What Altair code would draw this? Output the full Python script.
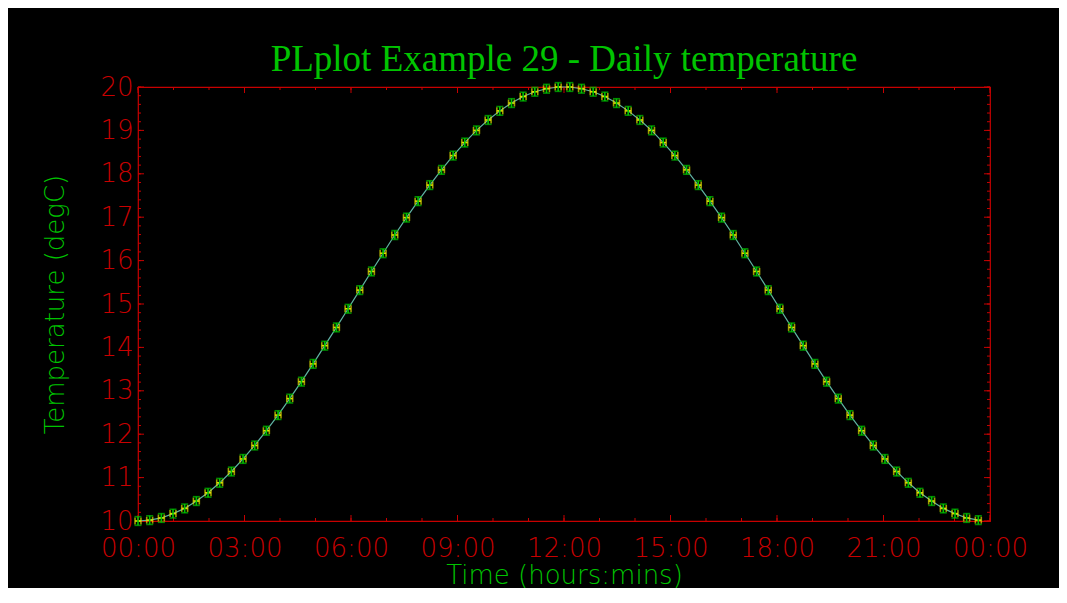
import altair as alt
import pandas as pd

# ---- data (73 samples over one day) ----
hours = [0.000, 0.329, 0.658, 0.986, 1.315, 1.644, 1.973, 2.301, 2.630, 2.959,
         3.288, 3.616, 3.945, 4.274, 4.603, 4.932, 5.260, 5.589, 5.918, 6.247,
         6.575, 6.904, 7.233, 7.562, 7.890, 8.219, 8.548, 8.877, 9.205, 9.534,
         9.863, 10.192, 10.521, 10.849, 11.178, 11.507, 11.836, 12.164, 12.493, 12.822,
         13.151, 13.479, 13.808, 14.137, 14.466, 14.795, 15.123, 15.452, 15.781, 16.110,
         16.438, 16.767, 17.096, 17.425, 17.753, 18.082, 18.411, 18.740, 19.068, 19.397,
         19.726, 20.055, 20.384, 20.712, 21.041, 21.370, 21.699, 22.027, 22.356, 22.685,
         23.014, 23.342, 23.671]
temps = [10.00, 10.02, 10.07, 10.17, 10.29, 10.46, 10.65, 10.88, 11.14, 11.43,
         11.74, 12.08, 12.44, 12.82, 13.21, 13.62, 14.04, 14.46, 14.89, 15.32,
         15.75, 16.17, 16.59, 16.99, 17.37, 17.74, 18.09, 18.42, 18.72, 19.00,
         19.24, 19.45, 19.63, 19.78, 19.89, 19.96, 20.00, 20.00, 19.96, 19.89,
         19.78, 19.63, 19.45, 19.24, 19.00, 18.72, 18.42, 18.09, 17.74, 17.37,
         16.99, 16.59, 16.17, 15.75, 15.32, 14.89, 14.46, 14.04, 13.62, 13.21,
         12.82, 12.44, 12.08, 11.74, 11.43, 11.14, 10.88, 10.65, 10.46, 10.29,
         10.17, 10.07, 10.02]
X_ERR = 5 / 60.0   # +/- 5 minutes (hours)
Y_ERR = 0.1        # +/- 0.1 degC

x_tick_values = [0, 3, 6, 9, 12, 15, 18, 21, 24]
x_tick_labels = ["00:00", "03:00", "06:00", "09:00", "12:00", "15:00", "18:00", "21:00", "00:00"]
x_minor_values = list(range(0, 25))
y_tick_values = [10, 11, 12, 13, 14, 15, 16, 17, 18, 19, 20]
y_minor_values = [round(10 + 0.2 * k, 1) for k in range(51)]

TITLE = "PLplot Example 29 - Daily temperature"
X_TITLE = "Time (hours:mins)"
Y_TITLE = "Temperature (degC)"

# ---- style ----
W, H = 852, 434
RED = "#c80000"
GREEN = "#00c400"
LINE = "#60b4a4"
YELLOW = "#e0e000"
SANS = "DejaVu Sans"
LW = 200
MAJ, MIN = 6, 3

df = pd.DataFrame({"h": hours, "t": temps})

label_expr = "[" + ",".join("'%s'" % s for s in x_tick_labels) + "][round(datum.value/3)]"

xscale = alt.Scale(domain=[0, 24], nice=False, zero=False)
yscale = alt.Scale(domain=[10, 20], nice=False, zero=False)

xaxis = alt.Axis(values=x_tick_values, labelExpr=label_expr, ticks=False, tickSize=0,
                 domain=False, grid=False, labelFont=SANS, labelFontSize=26,
                 labelFontWeight=LW,
                 labelColor=RED, labelPadding=14, labelOverlap=False, labelFlush=False,
                 labelBound=False, title=X_TITLE, titleFont=SANS, titleFontSize=26,
                 titleFontWeight=LW, titleColor=GREEN, titleY=62,
                 titleBaseline="alphabetic")
yaxis = alt.Axis(values=y_tick_values, format="d", ticks=False, tickSize=0,
                 domain=False, grid=False, labelFont=SANS, labelFontSize=26,
                 labelFontWeight=LW,
                 labelColor=RED, labelPadding=5, labelOverlap=False, labelFlush=False,
                 labelBound=False, title=Y_TITLE, titleFont=SANS, titleFontSize=26,
                 titleFontWeight=LW, titleColor=GREEN, titleX=-75, titleY=H / 2,
                 titleAngle=270, titleBaseline="alphabetic", titleAlign="center")

base = alt.Chart(df)

line = base.mark_line(color=LINE, strokeWidth=1.2).encode(
    x=alt.X("h:Q", scale=xscale, axis=xaxis),
    y=alt.Y("t:Q", scale=yscale, axis=yaxis),
)

err = base.transform_calculate(
    xl=f"datum.h - {X_ERR}", xh=f"datum.h + {X_ERR}",
    yl=f"datum.t - {Y_ERR}", yh=f"datum.t + {Y_ERR}",
)

SW = 1.6
CAP = 7
xbar = err.mark_rule(color=YELLOW, strokeWidth=SW).encode(
    x="xl:Q", x2="xh:Q", y="t:Q")
xcap_l = err.mark_tick(color=YELLOW, orient="vertical", size=CAP, thickness=SW).encode(
    x="xl:Q", y="t:Q")
xcap_h = err.mark_tick(color=YELLOW, orient="vertical", size=CAP, thickness=SW).encode(
    x="xh:Q", y="t:Q")
ybar = err.mark_rule(color=GREEN, strokeWidth=SW).encode(
    x="h:Q", y="yl:Q", y2="yh:Q")
ycap_l = err.mark_tick(color=GREEN, orient="horizontal", size=CAP, thickness=SW).encode(
    x="h:Q", y="yl:Q")
ycap_h = err.mark_tick(color=GREEN, orient="horizontal", size=CAP, thickness=SW).encode(
    x="h:Q", y="yh:Q")

# inward ticks on all four sides
xmaj = pd.DataFrame({"v": x_tick_values})
xmin_ = pd.DataFrame({"v": x_minor_values})
ymaj = pd.DataFrame({"v": y_tick_values})
ymin_ = pd.DataFrame({"v": y_minor_values})

def xticks(d, L):
    b = alt.Chart(d).mark_rule(color=RED, strokeWidth=1)
    return (b.encode(x="v:Q", y=alt.value(H), y2=alt.value(H - L)) +
            b.encode(x="v:Q", y=alt.value(0), y2=alt.value(L)))

def yticks(d, L):
    b = alt.Chart(d).mark_rule(color=RED, strokeWidth=1)
    return (b.encode(y="v:Q", x=alt.value(0), x2=alt.value(L)) +
            b.encode(y="v:Q", x=alt.value(W), x2=alt.value(W - L)))

title = alt.Chart(pd.DataFrame({"t": [TITLE]})).mark_text(
    font="Liberation Serif", fontSize=37, color=GREEN, baseline="alphabetic",
    align="center").encode(text="t:N", x=alt.value(W / 2), y=alt.value(-16))

chart = alt.layer(
    xticks(xmin_, MIN), xticks(xmaj, MAJ), yticks(ymin_, MIN), yticks(ymaj, MAJ),
    line, xbar, xcap_l, xcap_h, ybar, ycap_l, ycap_h, title,
).properties(
    width=W, height=H,
    autosize=alt.AutoSizeParams(type="none"),
    padding={"left": 130, "top": 79, "right": 69, "bottom": 67},
    background="#000000",
).configure_view(stroke=RED, strokeWidth=1.2)

chart.save("out.html", embed_options={"renderer": "svg", "actions": False})
